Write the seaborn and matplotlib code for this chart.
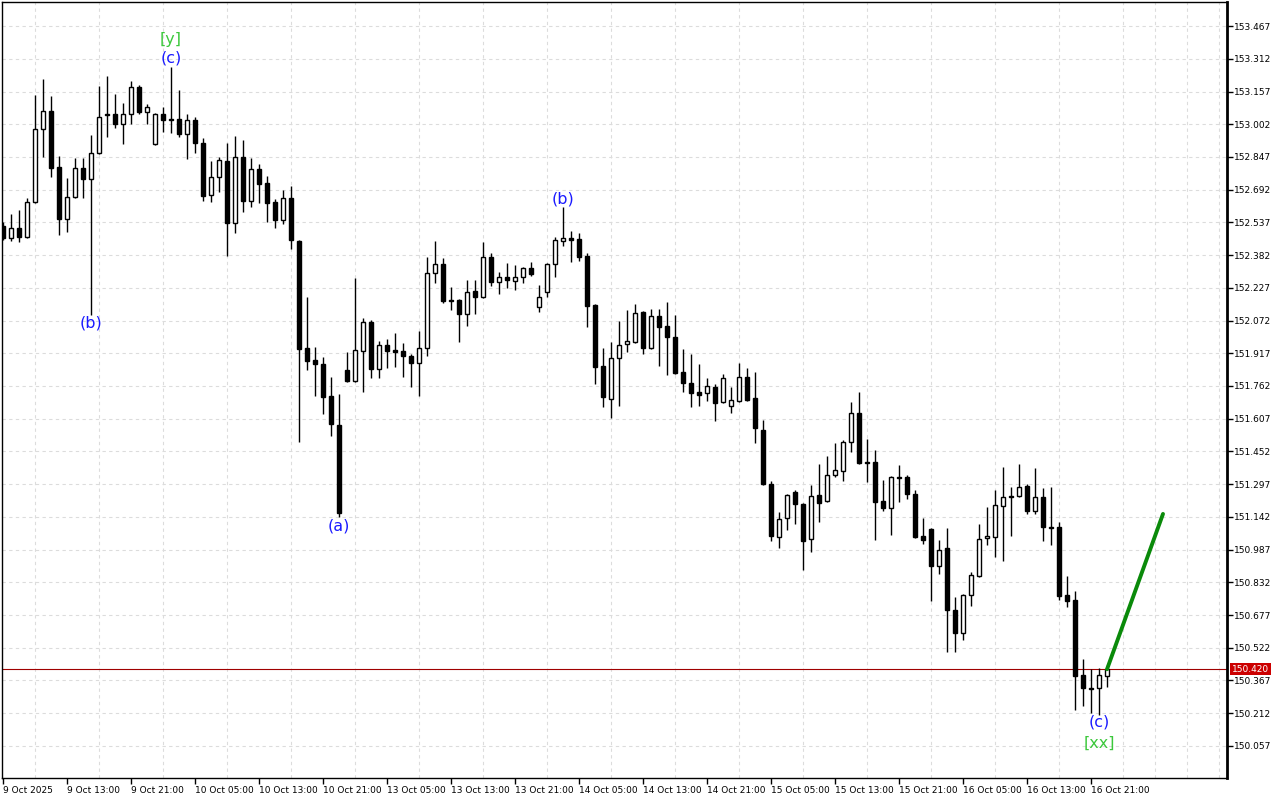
import numpy as np
import pandas as pd
import matplotlib
matplotlib.use("Agg")
import matplotlib.pyplot as plt
import matplotlib.transforms as mtransforms
import seaborn as sns

# hourly bars, 9 Oct 2025 05:00 -> 16 Oct 2025 23:00
opens = [
    152.520, 152.463, 152.510, 152.468, 152.634, 152.979, 153.064, 152.798, 152.553, 152.657,
    152.794, 152.742, 152.865, 153.050, 153.050, 153.002, 153.050, 153.178, 153.059, 152.908,
    153.050, 153.026, 153.026, 152.955, 153.021, 152.912, 152.666, 152.751, 152.827, 152.534,
    152.846, 152.638, 152.789, 152.723, 152.634, 152.548, 152.652, 152.449, 151.942, 151.885,
    151.866, 151.714, 151.577, 151.838, 151.785, 151.928, 152.065, 151.842, 151.956, 151.932,
    151.928, 151.904, 151.871, 151.942, 152.297, 152.340, 152.169, 152.169, 152.103, 152.212,
    152.184, 152.373, 152.255, 152.278, 152.259, 152.278, 152.321, 152.136, 152.207, 152.340,
    152.449, 152.463, 152.458, 152.378, 152.145, 151.857, 151.700, 151.894, 151.961, 151.970,
    152.112, 151.942, 152.093, 152.046, 151.994, 151.828, 151.776, 151.733, 151.729, 151.757,
    151.686, 151.667, 151.691, 151.805, 151.705, 151.554, 151.298, 151.047, 151.137, 151.260,
    151.203, 151.037, 151.246, 151.217, 151.340, 151.359, 151.497, 151.634, 151.402, 151.402,
    151.217, 151.184, 151.331, 151.331, 151.250, 151.051, 151.085, 150.909, 150.995, 150.701,
    150.592, 150.772, 150.862, 151.042, 151.047, 151.194, 151.241, 151.241, 151.288, 151.170,
    151.236, 151.094, 151.094, 150.772, 150.748, 150.393, 150.332, 150.332, 150.388,
]
highs = [
    152.539, 152.577, 152.596, 152.652, 153.140, 153.216, 153.135, 152.851, 152.747, 152.841,
    152.841, 152.950, 153.183, 153.230, 153.145, 153.102, 153.206, 153.187, 153.097, 153.055,
    153.083, 153.273, 153.164, 153.050, 153.035, 152.937, 152.827, 152.846, 152.912, 152.946,
    152.927, 152.841, 152.813, 152.756, 152.648, 152.690, 152.709, 152.454, 152.184, 151.946,
    151.899, 151.805, 151.724, 151.923, 152.274, 152.084, 152.074, 151.975, 151.984, 152.013,
    151.965, 151.913, 152.022, 152.373, 152.449, 152.368, 152.231, 152.174, 152.264, 152.264,
    152.444, 152.392, 152.302, 152.345, 152.335, 152.326, 152.349, 152.240, 152.345, 152.468,
    152.610, 152.496, 152.487, 152.392, 152.150, 151.942, 151.970, 152.070, 152.122, 152.150,
    152.117, 152.126, 152.126, 152.160, 152.098, 151.937, 151.913, 151.866, 151.800, 151.771,
    151.819, 151.757, 151.871, 151.847, 151.828, 151.601, 151.312, 151.165, 151.250, 151.270,
    151.208, 151.293, 151.392, 151.430, 151.492, 151.506, 151.686, 151.733, 151.511, 151.459,
    151.317, 151.336, 151.388, 151.340, 151.270, 151.137, 151.090, 151.033, 151.090, 150.763,
    150.777, 150.881, 151.108, 151.189, 151.270, 151.378, 151.284, 151.392, 151.298, 151.374,
    151.279, 151.284, 151.118, 150.862, 150.791, 150.469, 150.421, 150.426, 150.440,
]
lows = [
    152.454, 152.449, 152.444, 152.463, 152.630, 152.846, 152.751, 152.477, 152.491, 152.652,
    152.652, 152.098, 152.860, 152.941, 152.983, 152.908, 153.002, 153.050, 153.002, 152.904,
    152.964, 152.960, 152.941, 152.836, 152.865, 152.638, 152.634, 152.680, 152.378, 152.487,
    152.586, 152.610, 152.629, 152.539, 152.510, 152.529, 152.411, 151.497, 151.838, 151.714,
    151.630, 151.525, 151.141, 151.780, 151.781, 151.733, 151.800, 151.800, 151.847, 151.852,
    151.805, 151.757, 151.714, 151.904, 152.250, 152.155, 152.122, 151.970, 152.046, 152.103,
    152.179, 152.236, 152.198, 152.226, 152.217, 152.250, 152.283, 152.112, 152.184, 152.278,
    152.425, 152.349, 152.354, 152.041, 151.771, 151.662, 151.610, 151.667, 151.923, 151.965,
    151.913, 151.937, 151.857, 151.814, 151.818, 151.733, 151.662, 151.667, 151.691, 151.596,
    151.681, 151.634, 151.686, 151.691, 151.492, 151.293, 151.028, 150.995, 151.080, 151.108,
    150.890, 150.976, 151.118, 151.212, 151.331, 151.312, 151.449, 151.392, 151.307, 151.033,
    151.170, 151.056, 151.213, 151.227, 151.042, 151.014, 150.744, 150.871, 150.502, 150.502,
    150.559, 150.720, 150.857, 151.009, 150.952, 150.933, 151.051, 151.236, 151.156, 151.156,
    151.028, 151.009, 150.748, 150.715, 150.228, 150.247, 150.213, 150.204, 150.337,
]
closes = [
    152.463, 152.510, 152.468, 152.634, 152.979, 153.064, 152.794, 152.553, 152.657, 152.794,
    152.742, 152.865, 153.035, 153.046, 153.002, 153.050, 153.178, 153.059, 153.083, 153.050,
    153.021, 153.021, 152.955, 153.021, 152.912, 152.661, 152.751, 152.832, 152.534, 152.846,
    152.638, 152.789, 152.718, 152.629, 152.548, 152.652, 152.454, 151.937, 151.880, 151.866,
    151.710, 151.582, 151.160, 151.785, 151.932, 152.065, 151.842, 151.956, 151.928, 151.923,
    151.904, 151.871, 151.942, 152.297, 152.340, 152.165, 152.165, 152.103, 152.207, 152.184,
    152.373, 152.255, 152.278, 152.264, 152.278, 152.321, 152.293, 152.184, 152.340, 152.454,
    152.463, 152.454, 152.373, 152.141, 151.852, 151.710, 151.894, 151.956, 151.975, 152.108,
    151.942, 152.093, 152.041, 151.994, 151.823, 151.776, 151.729, 151.719, 151.762, 151.681,
    151.800, 151.696, 151.805, 151.696, 151.563, 151.298, 151.051, 151.132, 151.246, 151.203,
    151.028, 151.241, 151.208, 151.340, 151.364, 151.497, 151.634, 151.397, 151.397, 151.213,
    151.184, 151.331, 151.326, 151.250, 151.047, 151.033, 150.909, 150.985, 150.701, 150.592,
    150.772, 150.867, 151.037, 151.051, 151.198, 151.236, 151.236, 151.284, 151.170, 151.236,
    151.094, 151.090, 150.767, 150.744, 150.388, 150.332, 150.327, 150.393, 150.420,
]

# time axis labels, one every 8 bars
xtick_labels = ["9 Oct 2025", "9 Oct 13:00", "9 Oct 21:00", "10 Oct 05:00", "10 Oct 13:00",
                "10 Oct 21:00", "13 Oct 05:00", "13 Oct 13:00", "13 Oct 21:00", "14 Oct 05:00",
                "14 Oct 13:00", "14 Oct 21:00", "15 Oct 05:00", "15 Oct 13:00", "15 Oct 21:00",
                "16 Oct 05:00", "16 Oct 13:00", "16 Oct 21:00"]

# price axis
price_ticks = [150.057 + 0.155 * k for k in range(23)]
last_price = 150.420

# projected move
forecast_x = [138, 145]
forecast_y = [150.420, 151.156]

# wave labels: text, bar, price, colour
wave_labels = [
    ("[y]", 21, 153.401, "#3cc83c"),
    ("(c)", 21, 153.315, "#1a1aff"),
    ("(b)", 11, 152.060, "#1a1aff"),
    ("(a)", 42, 151.099, "#1a1aff"),
    ("(b)", 70, 152.648, "#1a1aff"),
    ("(c)", 137, 150.171, "#1a1aff"),
    ("[xx]", 137, 150.071, "#3cc83c"),
]

sns.set_theme(style="white")
plt.rcParams['font.family'] = ['DejaVu Sans']

df = pd.DataFrame({"open": opens, "high": highs, "low": lows, "close": closes})
df["x"] = np.arange(len(df))
up = df["close"] >= df["open"]
body_lo = np.minimum(df["open"], df["close"])
body_h = np.maximum((df["close"] - df["open"]).abs(), 0.002)

fig = plt.figure(figsize=(12.8, 8), dpi=100)
ax = fig.add_axes([2 / 1280, 22 / 800, 1225 / 1280, 776 / 800])

# grid
ax.set_yticks(price_ticks)
ax.set_yticklabels([f"{t:.3f}" for t in price_ticks])
ax.set_xticks(range(0, 137, 8))
ax.set_xticklabels(xtick_labels)
ax.set_xticks(range(0, 153, 4), minor=True)
ax.grid(True, axis="y", which="major", color="#dcdcdc", lw=0.8, ls=(0, (3, 3)))
ax.grid(True, axis="x", which="minor", color="#dcdcdc", lw=0.8, ls=(0, (3, 3)))

# candles
ax.vlines(df["x"], df["low"], df["high"], color="black", lw=1, zorder=2)
ax.bar(df["x"][up], body_h[up], bottom=body_lo[up], width=0.6,
       facecolor="white", edgecolor="black", lw=1, zorder=3)
ax.bar(df["x"][~up], body_h[~up], bottom=body_lo[~up], width=0.6,
       facecolor="black", edgecolor="black", lw=1, zorder=3)

ax.axhline(last_price, color="#a00000", lw=0.8, zorder=1)

sns.lineplot(x=forecast_x, y=forecast_y, ax=ax, color="#0a8a0a", lw=2.8, zorder=4)

for txt, bx, py, col in wave_labels:
    ax.text(bx, py, txt, color=col, fontsize=11.5, ha="center", va="center", zorder=5)

ax.set_xlim(-0.125, 153.0)
ax.set_ylim(149.905, 153.581)

ax.yaxis.tick_right()
ax.tick_params(axis="y", which="major", length=4, width=1, pad=1, labelsize=6.5,
               colors="black", right=True, left=False)
ax.tick_params(axis="x", which="major", length=4, width=1, pad=2, labelsize=6.5,
               colors="black", bottom=True)
ax.tick_params(axis="x", which="minor", length=0)
for lab in ax.get_xticklabels():
    lab.set_horizontalalignment("left")

for side, sp in ax.spines.items():
    sp.set_color("black")
    sp.set_linewidth(1)
ax.spines["right"].set_linewidth(2)

# current price tag on the price scale
trans = mtransforms.blended_transform_factory(ax.transAxes, ax.transData)
ax.text(1.004, last_price, f"{last_price:.3f}", transform=trans, color="white",
        fontsize=6.5, ha="left", va="center", clip_on=False, zorder=6,
        bbox=dict(facecolor="#cc0000", edgecolor="none", pad=1.2))

fig.savefig("out.png", dpi=100)
